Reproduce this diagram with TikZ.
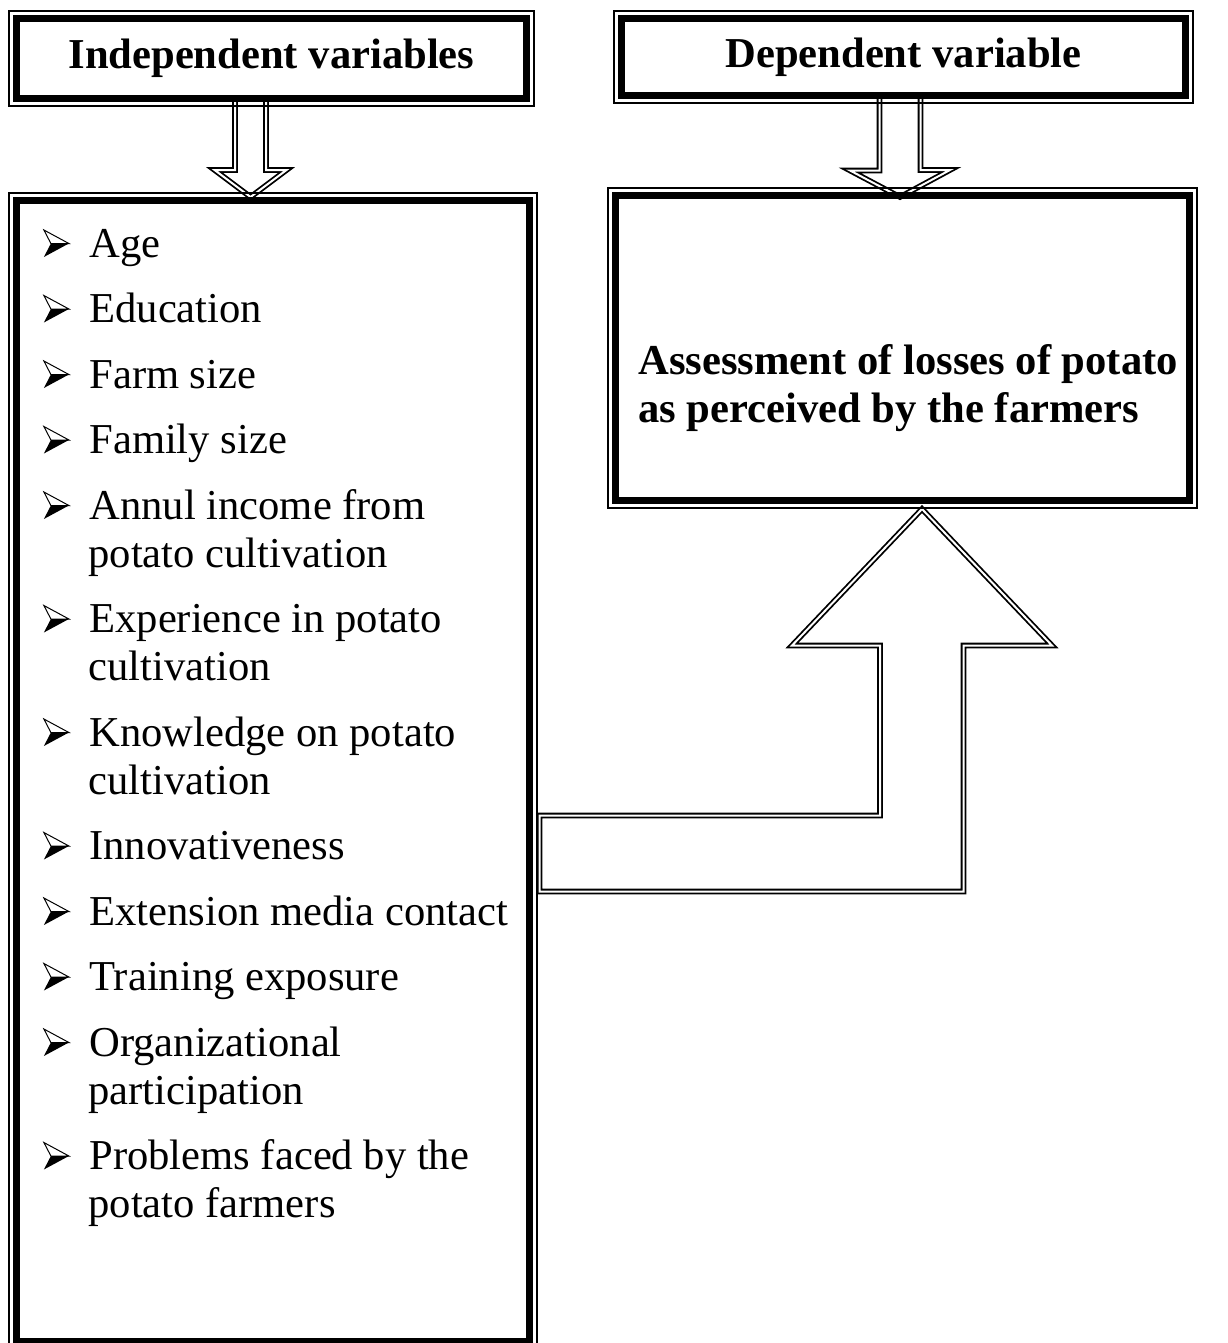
\documentclass[tikz,border=0pt]{standalone}
\usepackage{fontspec}
\setmainfont{Liberation Serif}
\usetikzlibrary{calc,backgrounds}

\newcommand\arrowbullet{\tikz[baseline=0pt,x=0.5pt,y=0.5pt,line width=0.5pt,line join=miter]{%
  \draw (0,27) -- (25,13.5) -- (7,13.5) -- cycle;
  \fill (7,13.5) -- (25,13.5) -- (0,0) -- cycle;}}

\tikzset{
  framebox/.style={draw, line width=3.5pt, outer sep=0pt, inner sep=0pt},
  frameline/.style={line width=1pt},
  headtext/.style={font=\fontsize{21.3}{24}\selectfont\bfseries},
  listitem/.style={anchor=base west, inner sep=0pt, align=left, font=\fontsize{21.3}{24}\selectfont},
  hollowarrow/.style={draw, line width=0.9pt, double=white, double distance=1pt, line join=miter}
}

\begin{document}
\begin{tikzpicture}[x=0.5pt, y=-0.5pt]
\useasboundingbox (0,0) rectangle (1227,1343);

% boxes
\node[framebox, headtext, minimum width=255pt, minimum height=40pt] (indep) at (271.5,58.5) {Independent variables};
\node[framebox, headtext, minimum width=282pt, minimum height=38.5pt] (dep) at (903.5,57.5) {Dependent variable};
\node[framebox, minimum width=256.5pt, minimum height=570.5pt] (list) at (273,771) {};
\node[framebox, minimum width=287pt, minimum height=152.5pt] (assess) at (902.5,348) {};

% outer thin rules
\draw[frameline] ([shift={(-7.5,-7.5)}]indep.north west) rectangle ([shift={(7.5,7.5)}]indep.south east);
\draw[frameline] ([shift={(-7.5,-7.5)}]dep.north west) rectangle ([shift={(7.5,7.5)}]dep.south east);
\draw[frameline] ([shift={(-7.5,-7.5)}]list.north west) rectangle ([shift={(7.5,7.5)}]list.south east);
\draw[frameline] ([shift={(-7.5,-7.5)}]assess.north west) rectangle ([shift={(7.5,7.5)}]assess.south east);

% variables (two-line items sit on their last baseline)
\node[listitem] (age) at (43,257) {\arrowbullet\hspace{10pt}Age};
\node[listitem] (edu) at (43,322.5) {\arrowbullet\hspace{10pt}Education};
\node[listitem] (farm) at (43,388) {\arrowbullet\hspace{10pt}Farm size};
\node[listitem] (family) at (43,453.5) {\arrowbullet\hspace{10pt}Family size};
\node[listitem] (income) at (43,567) {\arrowbullet\hspace{10pt}Annul income from\\\hspace*{22.5pt}potato cultivation};
\node[listitem] (exper) at (43,680.5) {\arrowbullet\hspace{10pt}Experience in potato\\\hspace*{22.5pt}cultivation};
\node[listitem] (knowl) at (43,794) {\arrowbullet\hspace{10pt}Knowledge on potato\\\hspace*{22.5pt}cultivation};
\node[listitem] (innov) at (43,859.5) {\arrowbullet\hspace{10pt}Innovativeness};
\node[listitem] (media) at (43,925) {\arrowbullet\hspace{10pt}Extension media contact};
\node[listitem] (train) at (43,990.5) {\arrowbullet\hspace{10pt}Training exposure};
\node[listitem] (org) at (43,1104) {\arrowbullet\hspace{10pt}Organizational\\\hspace*{22.5pt}participation};
\node[listitem] (probl) at (43,1217.5) {\arrowbullet\hspace{10pt}Problems faced by the\\\hspace*{22.5pt}potato farmers};

% dependent variable text
\node[headtext, anchor=west, align=left, inner sep=0pt] (assesstext) at (638,388) {Assessment of losses of potato\\as perceived by the farmers};

% hollow arrows
\begin{scope}[on background layer]
\draw[hollowarrow] ($(indep.south)+(-36.5,0.5)$) -- ++(0,71) -- ++(-20.5,0)
  -- ($(list.north)+(-22.5,-3.5)$) -- ++(36,-27) -- ++(-20.5,0) -- ++(0,-71);
\draw[hollowarrow] ($(dep.south)+(-24,0.5)$) -- ++(0,74) -- ++(-29.5,0)
  -- ($(assess.north)+(-2.5,1.5)$) -- ++(50,-27) -- ++(-29.5,0) -- ++(0,-74);
\draw[hollowarrow] ($(list.east)+(10,44.5)$) -- ++(340.5,0) -- ++(0,-170) -- ++(-88,0)
  -- ($(assess.south)+(19.5,8.5)$) -- ++(130,136.5) -- ++(-88.5,0) -- ++(0,246) -- ++(-424,0) -- cycle;
\end{scope}
\end{tikzpicture}
\end{document}
